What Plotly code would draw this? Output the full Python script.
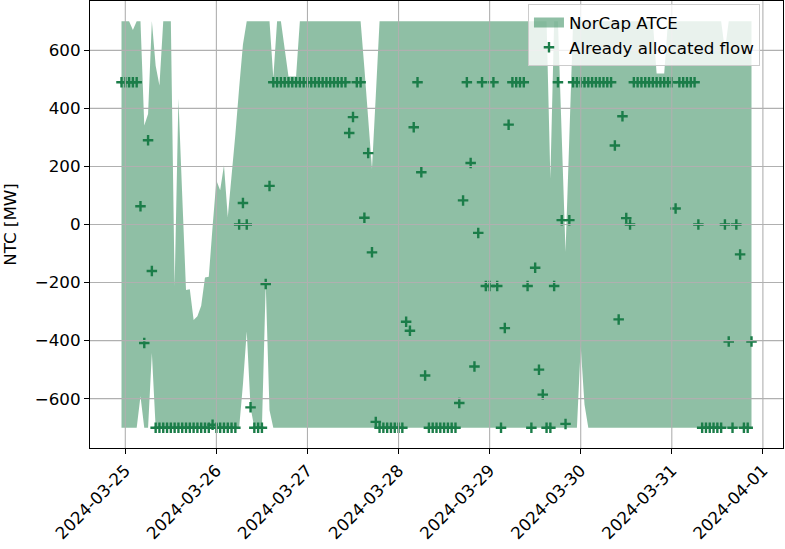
import pandas as pd
import plotly.graph_objects as go

# Hourly data, starting 2024-03-24 23:00 (UTC)
start_time = "2024-03-24 23:00"

upper = [
    700, 700, 700, 670, 700, 700, 341, 381, 700, 547, 479, 700,
    700, 700, -214, 433, 100, -226, -223, -329, -316, -280, -183, -180,
    -8, 152, 118, 204, 26, 160, 310, 470, 620, 700, 700, 700,
    700, 700, 700, 700, 505, 700, 700, 600, 510, 510, 510, 700,
    700, 700, 700, 700, 700, 700, 700, 700, 700, 700, 700, 700,
    700, 700, 700, 700, 538, 363, 192, 443, 700, 700, 700, 700,
    700, 700, 700, 700, 700, 700, 700, 700, 700, 700, 700, 700,
    700, 700, 700, 700, 700, 700, 700, 700, 700, 700, 700, 700,
    700, 700, 700, 700, 700, 700, 700, 700, 700, 700, 700, 700,
    700, 700, 700, 700, 700, 158, 700, 700, 320, -94, 300, 700,
    700, 700, 700, 700, 700, 700, 700, 700, 700, 700, 700, 700,
    700, 700, 700, 700, 700, 700, 700, 700, 700, 520, 520, 520,
    700, 700, 700, 700, 700, 700, 700, 700, 700, 700, 700, 700,
    700, 700, 700, 600, 700, 700, 700, 700, 700, 700, 700,
]

lower = [
    -700, -700, -700, -700, -700, -592, -700, -700, -443, -700, -700, -700,
    -700, -700, -700, -700, -700, -700, -700, -700, -700, -700, -700, -700,
    -700, -700, -700, -700, -700, -700, -700, -700, -550, -369, -630, -700,
    -700, -700, -205, -640, -700, -700, -700, -700, -700, -700, -700, -700,
    -700, -700, -700, -700, -700, -700, -700, -700, -700, -700, -700, -700,
    -700, -700, -700, -700, -700, -700, -700, -700, -700, -700, -700, -700,
    -700, -700, -700, -700, -700, -700, -700, -700, -700, -700, -700, -700,
    -700, -700, -700, -700, -700, -700, -700, -700, -700, -700, -700, -700,
    -700, -700, -700, -700, -700, -700, -700, -700, -700, -700, -700, -700,
    -700, -700, -700, -700, -700, -700, -700, -700, -700, -700, -700, -700,
    -700, -420, -620, -700, -700, -700, -700, -700, -700, -700, -700, -700,
    -700, -700, -700, -700, -700, -700, -700, -700, -700, -700, -700, -700,
    -700, -700, -700, -700, -700, -700, -700, -700, -700, -700, -700, -700,
    -700, -700, -700, -700, -700, -700, -700, -700, -700, -700, -700,
]

flow = [
    490, 490, 490, 490, 490, 63, -408, 290, -160, -700, -700, -700,
    -700, -700, -700, -700, -700, -700, -700, -700, -700, -700, -700, -700,
    -690, -700, -700, -700, -700, -700, -700, 0, 74, 0, -630, -700,
    -700, -700, -205, 133, 490, 490, 490, 490, 490, 490, 490, 490,
    490, 490, 490, 490, 490, 490, 490, 490, 490, 490, 490, 490,
    315, 370, 490, 490, 23, 246, -96, -680, -700, -700, -700, -700,
    -700, -700, -700, -335, -366, 335, 490, 180, -520, -700, -700, -700,
    -700, -700, -700, -700, -700, -615, 83, 490, 212, -489, -29, 490,
    -212, -212, 490, -212, -700, -357, 344, 490, 490, 490, 490, -212,
    -700, -149, -500, -586, -700, -700, -212, 490, 15, -687, 15, 490,
    490, 490, 490, 490, 490, 490, 490, 490, 490, 490, 272, -327,
    373, 22, 0, 490, 490, 490, 490, 490, 490, 490, 490, 490,
    490, 490, 55, 490, 490, 490, 490, 490, 0, -700, -700, -700,
    -700, -700, -700, 0, -403, -700, 0, -103, -700, -700, -403,
]

x_tick_dates = ["2024-03-25", "2024-03-26", "2024-03-27", "2024-03-28",
                "2024-03-29", "2024-03-30", "2024-03-31", "2024-04-01"]
y_tick_values = [-600, -400, -200, 0, 200, 400, 600]
y_tick_labels = ["\u2212600", "\u2212400", "\u2212200", "0", "200", "400", "600"]

times = pd.date_range(start_time, periods=len(flow), freq="h")

GREEN = "#1b7d49"
FILL = "rgba(31,127,75,0.5)"
GRID = "#b0b0b0"
FONT = "DejaVu Sans"
FS = 16.7

fig = go.Figure()
fig.add_trace(go.Scatter(x=times, y=lower, mode="lines", line=dict(width=0),
                         showlegend=False, hoverinfo="skip"))
fig.add_trace(go.Scatter(x=times, y=upper, mode="lines", line=dict(width=0),
                         fill="tonexty", fillcolor=FILL, name="NorCap ATCE",
                         showlegend=False))
# legend patch for the band (rectangular swatch like matplotlib)
fig.add_trace(go.Scatter(x=[None], y=[None], mode="lines", name="NorCap ATCE",
                         line=dict(width=13, color=FILL)))
fig.add_trace(go.Scatter(x=times, y=flow, mode="markers", name="Already allocated flow",
                         marker=dict(symbol="cross-thin", size=7.5, color=GREEN,
                                     line=dict(width=2.4, color=GREEN))))

# matplotlib-like 5% margins
span = times[-1] - times[0]
pad = span * 0.05
x_range = [times[0] - pad, times[-1] + pad]
ymin, ymax = min(lower), max(upper)
ypad = (ymax - ymin) * 0.05
y_range = [ymin - ypad, ymax + ypad]

# grid lines drawn above the fill (as in matplotlib)
shapes = []
for d in x_tick_dates:
    shapes.append(dict(type="line", xref="x", yref="paper", x0=d, x1=d, y0=0, y1=1,
                       line=dict(color=GRID, width=1.1), layer="above"))
for v in y_tick_values:
    shapes.append(dict(type="line", xref="paper", yref="y", x0=0, x1=1, y0=v, y1=v,
                       line=dict(color=GRID, width=1.1), layer="above"))

fig.update_layout(
    width=785, height=549,
    margin=dict(l=90, r=2, t=1, b=101, autoexpand=False),
    plot_bgcolor="white", paper_bgcolor="white",
    font=dict(family=FONT, size=FS, color="black"),
    shapes=shapes,
    showlegend=True,
    legend=dict(x=0.632, y=0.993, xanchor="left", yanchor="top", traceorder="normal",
                bgcolor="rgba(255,255,255,0.8)", bordercolor="#cccccc", borderwidth=1,
                font=dict(family=FONT, size=FS), tracegroupgap=0),
)
fig.update_xaxes(
    range=x_range, tickmode="array", tickvals=x_tick_dates, ticktext=x_tick_dates,
    tickangle=-45, showgrid=False, zeroline=False, automargin=False,
    showline=True, mirror=True, linecolor="black", linewidth=1.1,
    ticks="outside", ticklen=5, tickwidth=1.1, tickcolor="black",
    tickfont=dict(family=FONT, size=FS),
)
fig.update_yaxes(
    range=y_range, tickmode="array", tickvals=y_tick_values, ticktext=y_tick_labels,
    showgrid=False, zeroline=False, automargin=False,
    showline=True, mirror=True, linecolor="black", linewidth=1.1,
    ticks="outside", ticklen=5, tickwidth=1.1, tickcolor="black",
    tickfont=dict(family=FONT, size=FS),
    title=dict(text="NTC [MW]", font=dict(family=FONT, size=FS), standoff=18),
)

fig.write_html("out.html", config={"displayModeBar": False},
               post_script="document.body.style.margin='0px';")
